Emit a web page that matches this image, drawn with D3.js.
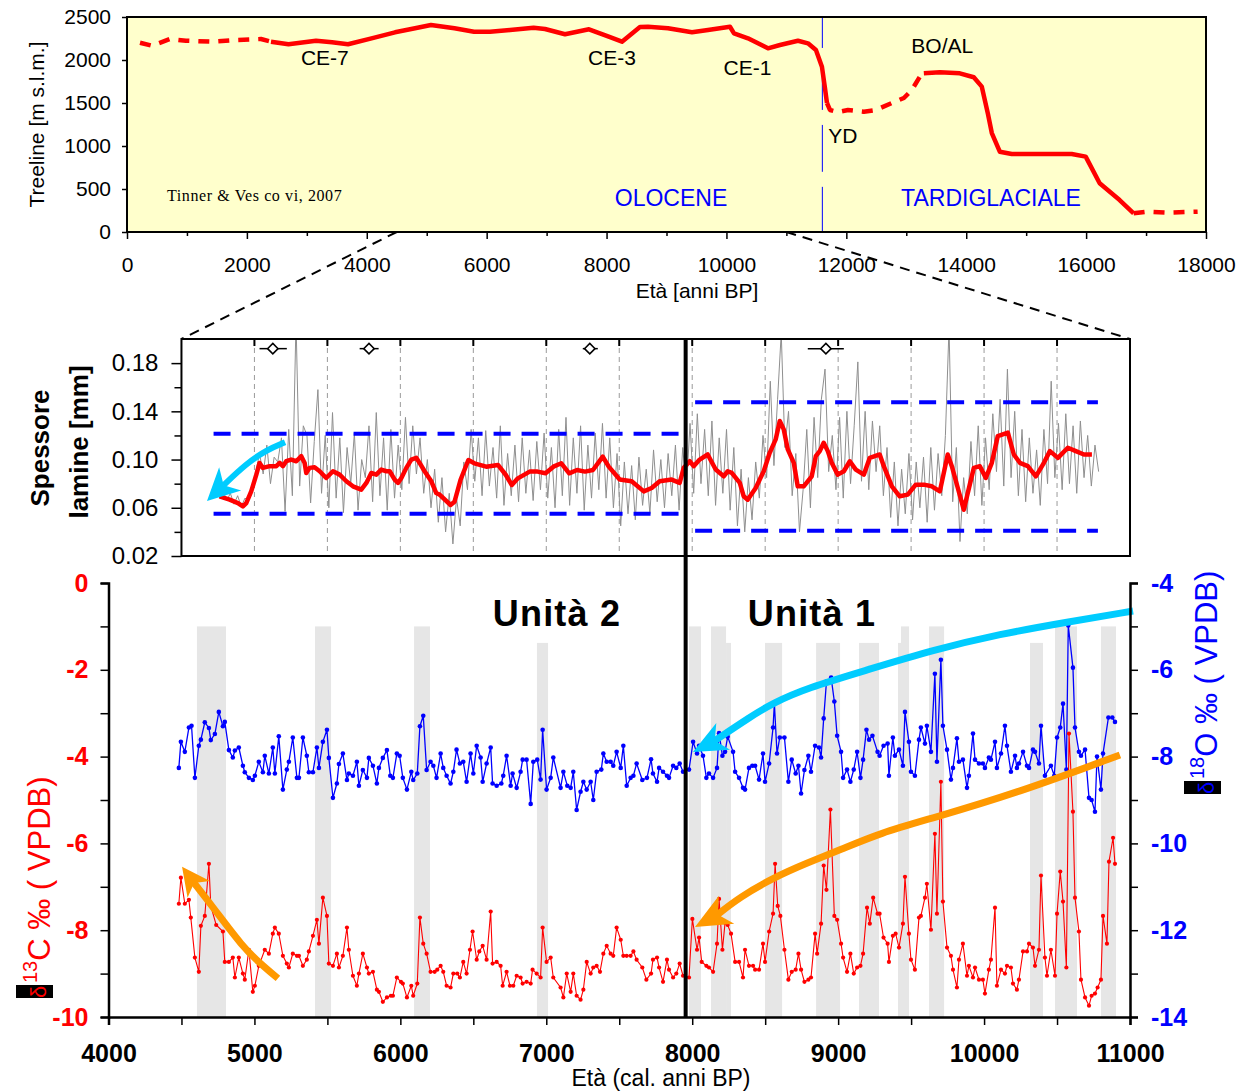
<!DOCTYPE html>
<html>
<head>
<meta charset="utf-8">
<script src="https://cdn.jsdelivr.net/npm/d3@7"></script>
<style>
  body { margin: 0; background: #fff; }
  svg text { font-family: Arial, "Liberation Sans", sans-serif; }
</style>
</head>
<body>
<svg id="chart" width="1245" height="1091"></svg>
<script>
// ---------------- Treeline reconstruction (Tinner & Vescovi, 2007) ----------------
const treelineAge = [217,417,717,984,1435,1835,2235,2402,2694,3153,3420,3687,4079,4471,4805,5071,5463,5789,6056,6389,6783,6973,7307,7707,8036,8257,8557,8691,9025,9425,9692,10059,10126,10359,10693,10893,11193,11360,11493,11593,11640,11677,11727,11860,12027,12293,12493,12760,12960,13093,13226,13293,13560,13893,14126,14260,14360,14427,14560,14760,15227,15760,15993,16226,16559,16793,17026,17360,17860];
const treelineElev = [2201,2166,2244,2224,2213,2233,2244,2213,2183,2224,2206,2183,2252,2322,2369,2407,2369,2329,2329,2349,2376,2360,2299,2357,2271,2213,2384,2387,2369,2322,2349,2387,2310,2252,2136,2174,2224,2194,2116,1922,1690,1500,1419,1395,1419,1399,1419,1500,1558,1651,1806,1845,1857,1845,1799,1690,1380,1151,934,907,907,907,876,566,372,217,236,225,236];
// age ranges where the treeline position is poorly constrained
const treelineUncertain = [[0,2402],[11677,13293],[16793,18000]];
const treelineLabels = [["CE-7",3300,1945],["CE-3",8090,1945],["CE-1",10350,1830],["BO/AL",13600,2080],["YD",11700,1035]];
const holoceneStart = 11600;
const topTicksY = [0,500,1000,1500,2000,2500];
const topTicksX = [0,2000,4000,6000,8000,10000,12000,14000,16000,18000];

// ---------------- Lamina thickness ----------------
const laminaStartAge = 4760, laminaStep = 25;
const laminaThickness = [
  0.068,0.074,0.066,0.072,0.063,0.070,0.061,0.068,
  0.066,0.078,0.090,0.105,0.088,0.112,0.080,0.102,
  0.098,0.118,0.057,0.125,0.070,0.215,0.078,0.128,
  0.120,0.064,0.115,0.158,0.072,0.120,0.060,0.139,
  0.068,0.118,0.056,0.110,0.080,0.122,0.058,0.100,
  0.085,0.128,0.065,0.139,0.070,0.118,0.058,0.125,
  0.068,0.112,0.075,0.135,0.080,0.128,0.088,0.118,
  0.072,0.100,0.060,0.092,0.048,0.085,0.040,0.072,
  0.030,0.068,0.045,0.098,0.075,0.125,0.082,0.118,
  0.070,0.124,0.078,0.110,0.068,0.128,0.062,0.105,
  0.070,0.112,0.065,0.118,0.072,0.108,0.066,0.115,
  0.075,0.122,0.068,0.110,0.060,0.125,0.070,0.135,
  0.062,0.118,0.072,0.128,0.058,0.112,0.068,0.122,
  0.075,0.130,0.068,0.118,0.060,0.105,0.045,0.098,
  0.055,0.095,0.050,0.102,0.062,0.092,0.055,0.108,
  0.065,0.100,0.060,0.105,0.070,0.112,0.058,0.110,
  0.075,0.130,0.072,0.138,0.080,0.125,0.070,0.132,
  0.062,0.118,0.072,0.125,0.058,0.110,0.045,0.092,
  0.040,0.085,0.050,0.098,0.068,0.120,0.085,0.165,
  0.095,0.150,0.205,0.110,0.140,0.070,0.105,0.040,
  0.075,0.125,0.060,0.135,0.085,0.150,0.175,0.090,
  0.120,0.075,0.135,0.068,0.140,0.080,0.128,0.181,
  0.082,0.140,0.075,0.132,0.090,0.128,0.070,0.110,
  0.052,0.098,0.045,0.092,0.055,0.105,0.050,0.098,
  0.060,0.102,0.048,0.110,0.058,0.105,0.070,0.120,
  0.210,0.065,0.110,0.032,0.085,0.055,0.115,0.070,
  0.128,0.062,0.118,0.075,0.138,0.090,0.150,0.078,
  0.175,0.085,0.140,0.070,0.125,0.065,0.118,0.072,
  0.108,0.062,0.125,0.080,0.165,0.085,0.130,0.075,
  0.138,0.080,0.128,0.072,0.132,0.085,0.120,0.078,
  0.112,0.090
];
const laminaSmooth = [[4761,0.0695],[4830,0.0667],[4887,0.0639],[4921,0.0611],[4944,0.0639],[4978,0.0736],[5013,0.0875],[5035,0.0972],[5058,0.0931],[5104,0.0945],[5150,0.0945],[5173,0.0972],[5195,0.0945],[5218,0.0986],[5252,0.1000],[5287,0.0986],[5321,0.1028],[5344,0.0972],[5355,0.0889],[5378,0.0931],[5412,0.0936],[5447,0.0903],[5492,0.0847],[5538,0.0903],[5584,0.0875],[5630,0.0820],[5675,0.0778],[5732,0.0750],[5767,0.0806],[5801,0.0889],[5835,0.0875],[5869,0.0917],[5904,0.0903],[5927,0.0903],[5961,0.0834],[5984,0.0806],[6007,0.0847],[6041,0.0931],[6075,0.1000],[6109,0.1014],[6132,0.0972],[6166,0.0903],[6212,0.0820],[6246,0.0722],[6269,0.0709],[6344,0.0623],[6371,0.0650],[6412,0.0830],[6466,0.0996],[6507,0.0969],[6588,0.0941],[6669,0.0955],[6723,0.0872],[6764,0.0789],[6805,0.0844],[6886,0.0900],[6940,0.0900],[6995,0.0886],[7049,0.0941],[7103,0.0969],[7157,0.0886],[7211,0.0913],[7265,0.0900],[7320,0.0913],[7387,0.1024],[7428,0.0941],[7503,0.0834],[7585,0.0820],[7668,0.0736],[7722,0.0764],[7777,0.0820],[7859,0.0834],[7914,0.0806],[7942,0.0931],[7983,0.0986],[8010,0.0945],[8051,0.1000],[8106,0.1042],[8161,0.0917],[8216,0.0861],[8243,0.0903],[8271,0.0889],[8326,0.0806],[8353,0.0695],[8380,0.0667],[8435,0.0764],[8490,0.0903],[8531,0.1056],[8572,0.1167],[8600,0.1320],[8627,0.1250],[8655,0.1084],[8696,0.0973],[8723,0.0778],[8764,0.0778],[8819,0.0861],[8847,0.1028],[8874,0.1070],[8901,0.1139],[8929,0.1070],[8956,0.0973],[8997,0.0875],[9039,0.0903],[9080,0.0986],[9121,0.0917],[9176,0.0875],[9217,0.1014],[9285,0.1042],[9313,0.0945],[9368,0.0778],[9422,0.0695],[9477,0.0709],[9532,0.0792],[9587,0.0792],[9642,0.0778],[9697,0.0736],[9751,0.1042],[9779,0.0945],[9820,0.0764],[9861,0.0584],[9902,0.0792],[9930,0.0931],[9971,0.0945],[10012,0.0848],[10053,0.0973],[10094,0.1195],[10163,0.1223],[10204,0.1042],[10245,0.0973],[10300,0.0945],[10355,0.0861],[10410,0.0973],[10451,0.1070],[10506,0.1014],[10574,0.1098],[10629,0.1070],[10684,0.1042],[10739,0.1042]];
// mean ± range bands for the two units: [startAge, endAge, lower, upper]
const laminaBands = [[4720,7930,0.055,0.1215],[8020,10780,0.041,0.1475]];
// radiometric dates with 2-sigma range: [age, lower, upper]
const datingPoints = [[5126,5035,5222],[5785,5721,5851],[7298,7250,7353],[8916,8792,9039]];
const laminaTicks = [0.02,0.06,0.10,0.14,0.18];
const laminaMinorTicks = [0.04,0.08,0.12,0.16];

// ---------------- Stable isotopes ----------------
const d18O = [[4482,-8.26],[4496,-7.66],[4523,-7.89],[4551,-7.33],[4569,-7.29],[4592,-8.49],[4619,-7.75],[4633,-7.61],[4660,-7.21],[4688,-7.34],[4701,-7.62],[4729,-7.48],[4756,-6.97],[4784,-7.30],[4797,-7.20],[4825,-7.85],[4852,-8.02],[4866,-7.86],[4893,-7.79],[4921,-8.21],[4934,-8.36],[4962,-8.49],[4989,-8.54],[5003,-8.44],[5030,-8.12],[5058,-8.36],[5071,-7.98],[5099,-8.39],[5126,-7.79],[5140,-8.39],[5167,-7.53],[5195,-8.76],[5222,-8.30],[5236,-8.12],[5263,-7.56],[5291,-8.49],[5305,-8.49],[5332,-7.56],[5359,-7.98],[5373,-8.36],[5401,-8.36],[5428,-7.79],[5442,-8.26],[5469,-7.66],[5497,-7.38],[5510,-8.03],[5538,-8.95],[5565,-8.62],[5579,-8.17],[5606,-7.93],[5634,-8.54],[5647,-8.39],[5675,-8.44],[5702,-8.12],[5716,-8.67],[5743,-8.31],[5771,-8.49],[5784,-8.03],[5812,-8.21],[5839,-8.62],[5853,-8.26],[5880,-8.03],[5908,-7.85],[5931,-8.44],[5949,-8.49],[5976,-7.93],[5995,-7.98],[6017,-8.49],[6045,-8.76],
  [6075,-8.35],[6088,-8.54],[6116,-8.39],[6134,-7.30],[6157,-7.06],[6180,-8.31],[6207,-8.12],[6226,-8.21],[6248,-8.49],[6276,-7.93],[6294,-8.26],[6317,-8.44],[6344,-8.62],[6363,-8.35],[6385,-7.84],[6408,-8.16],[6431,-8.12],[6454,-8.58],[6481,-7.93],[6500,-8.39],[6523,-7.75],[6550,-8.02],[6564,-8.58],[6591,-8.16],[6619,-7.79],[6632,-8.62],[6660,-8.67],[6692,-8.62],[6705,-8.44],[6728,-7.98],[6756,-8.67],[6769,-8.39],[6797,-8.72],[6824,-8.35],[6838,-8.07],[6865,-8.07],[6893,-9.09],[6911,-8.12],[6938,-8.07],[6961,-8.53],[6975,-7.38],[7002,-8.76],[7030,-8.49],[7048,-8.02],[7098,-8.72],[7117,-8.35],[7144,-8.67],[7167,-8.72],[7185,-8.35],[7208,-9.23],[7235,-8.81],[7254,-8.58],[7277,-8.76],[7304,-8.58],[7322,-9.00],[7345,-8.35],[7377,-8.30],[7391,-7.93],[7414,-8.12],[7441,-8.12],[7459,-8.21],[7482,-7.89],[7510,-8.26],[7528,-7.75],[7551,-8.67],[7578,-8.49],[7597,-8.44],[7619,-8.16],
  [7658,-8.54],[7690,-8.49],[7718,-8.06],[7731,-8.39],[7759,-8.58],[7773,-8.26],[7800,-8.35],[7827,-8.44],[7841,-8.49],[7869,-8.21],[7891,-8.26],[7914,-8.16],[7937,-8.35],[7978,-8.30],[8006,-7.66],[8033,-7.93],[8047,-7.75],[8074,-7.98],[8097,-8.49],[8115,-8.39],[8143,-8.49],[8170,-8.26],[8184,-7.46],[8207,-7.98],[8225,-7.89],[8243,-7.54],[8280,-7.89],[8294,-8.35],[8321,-8.49],[8348,-8.72],[8362,-8.76],[8389,-8.26],[8412,-8.21],[8431,-8.21],[8458,-8.53],[8485,-7.93],[8499,-8.58],[8527,-8.16],[8554,-7.33],[8563,-6.77],[8581,-7.93],[8600,-7.56],[8632,-7.56],[8659,-8.58],[8682,-8.07],[8709,-8.39],[8728,-8.21],[8746,-8.85],[8769,-8.31],[8796,-7.98],[8814,-8.35],[8842,-7.75],[8869,-7.79],[8883,-8.02],[8901,-7.12],[8920,-6.27],[8952,-6.18],[8974,-6.73],[8993,-7.52],[9020,-7.89],[9034,-8.49],[9061,-8.30],[9084,-8.58],[9107,-8.30],[9130,-7.89],[9153,-8.49],[9171,-8.07],[9194,-7.38],[9212,-7.61],[9235,-7.52],
  [9270,-7.89],[9284,-7.98],[9311,-7.75],[9339,-7.70],[9348,-8.44],[9375,-7.56],[9389,-7.98],[9417,-7.84],[9444,-8.21],[9458,-6.97],[9485,-7.66],[9499,-8.35],[9526,-8.44],[9554,-7.61],[9567,-7.33],[9595,-7.70],[9608,-7.29],[9636,-7.89],[9663,-6.09],[9677,-8.12],[9704,-5.77],[9718,-7.29],[9746,-7.84],[9773,-8.53],[9787,-8.26],[9814,-7.58],[9828,-8.12],[9855,-8.07],[9883,-8.72],[9896,-8.44],[9924,-7.47],[9938,-8.07],[9965,-8.16],[9992,-8.16],[10006,-8.26],[10033,-8.02],[10047,-8.07],[10075,-7.66],[10088,-8.26],[10116,-7.93],[10143,-7.29],[10157,-7.75],[10184,-8.35],[10212,-7.98],[10225,-8.26],[10239,-8.16],[10267,-7.89],[10294,-8.21],[10308,-8.26],[10335,-7.84],[10349,-7.89],[10376,-8.16],[10390,-7.29],[10417,-8.44],[10458,-8.21],[10481,-8.44],[10500,-7.56],[10522,-7.33],[10541,-6.78],[10564,-8.30],[10577,-4.98],[10609,-5.95],[10623,-7.33],[10650,-7.89],[10664,-7.98],[10692,-7.84],[10719,-8.95],[10737,-9.00],[10760,-9.27],[10774,-8.00],[10801,-8.76],[10815,-7.93],[10852,-7.10],[10879,-7.10],[10897,-7.20]];

const d13C = [[4482,-7.39],[4496,-6.79],[4523,-7.39],[4551,-7.30],[4564,-7.71],[4592,-8.63],[4619,-8.96],[4633,-7.90],[4660,-7.67],[4688,-6.47],[4701,-7.44],[4738,-7.88],[4784,-8.03],[4797,-8.73],[4825,-8.73],[4852,-8.63],[4866,-9.09],[4893,-8.63],[4921,-9.00],[4934,-9.14],[4962,-8.45],[4989,-9.42],[5003,-9.28],[5030,-8.82],[5071,-8.45],[5099,-8.54],[5126,-8.08],[5140,-7.94],[5167,-8.08],[5195,-8.59],[5222,-8.77],[5236,-8.86],[5263,-8.54],[5291,-8.59],[5305,-8.59],[5332,-8.82],[5359,-8.68],[5373,-8.49],[5401,-8.13],[5428,-7.76],[5442,-8.31],[5469,-7.25],[5497,-7.67],[5510,-8.77],[5538,-8.82],[5565,-8.54],[5579,-8.86],[5606,-8.59],[5634,-7.94],[5647,-8.45],[5675,-9.05],[5702,-9.28],[5716,-9.00],[5743,-8.54],[5771,-8.86],[5784,-9.00],[5812,-8.96],[5839,-9.37],[5853,-9.42],[5880,-9.65],[5908,-9.55],[5935,-9.51],[5949,-9.51],[5976,-9.09],[6004,-9.19],[6017,-9.23],[6045,-9.55],
  [6075,-9.28],[6088,-9.51],[6116,-9.23],[6134,-7.71],[6157,-8.31],[6180,-8.54],[6207,-8.96],[6235,-8.96],[6253,-8.91],[6276,-8.82],[6294,-8.96],[6317,-9.28],[6344,-9.32],[6363,-9.00],[6390,-9.00],[6408,-9.09],[6431,-8.73],[6454,-9.00],[6477,-8.45],[6495,-8.03],[6523,-8.68],[6541,-8.49],[6564,-8.36],[6591,-8.68],[6619,-7.57],[6632,-8.77],[6660,-8.73],[6687,-8.82],[6701,-9.28],[6728,-8.96],[6751,-9.28],[6774,-9.28],[6797,-9.05],[6824,-9.09],[6838,-9.23],[6865,-9.19],[6893,-9.23],[6906,-8.91],[6934,-9.00],[6961,-9.09],[6975,-7.94],[7002,-8.73],[7030,-8.63],[7048,-9.09],[7098,-9.32],[7117,-9.55],[7140,-9.00],[7167,-9.42],[7185,-9.00],[7208,-9.51],[7235,-9.60],[7254,-9.37],[7277,-8.73],[7304,-9.00],[7322,-8.86],[7345,-8.82],[7368,-8.96],[7391,-8.54],[7414,-8.36],[7441,-8.54],[7459,-8.59],[7482,-7.94],[7510,-8.22],[7528,-8.59],[7551,-8.59],[7578,-8.59],[7597,-8.49],[7619,-8.68],
  [7658,-8.86],[7686,-9.14],[7718,-9.00],[7731,-8.68],[7759,-8.63],[7773,-8.86],[7800,-9.19],[7827,-8.68],[7841,-8.91],[7869,-9.09],[7891,-9.00],[7914,-8.77],[7937,-9.05],[7978,-9.09],[8001,-7.74],[8033,-8.45],[8047,-8.17],[8065,-8.73],[8097,-8.82],[8115,-8.86],[8143,-8.96],[8170,-8.31],[8184,-7.28],[8207,-8.45],[8225,-7.83],[8243,-7.88],[8266,-8.08],[8294,-8.73],[8321,-8.73],[8348,-9.09],[8362,-8.45],[8389,-8.82],[8417,-8.82],[8431,-8.91],[8458,-8.91],[8485,-8.31],[8499,-8.73],[8527,-8.03],[8554,-7.62],[8568,-6.47],[8586,-7.44],[8604,-7.67],[8632,-8.45],[8659,-9.14],[8682,-8.96],[8709,-8.91],[8728,-8.54],[8746,-8.91],[8769,-9.19],[8796,-9.14],[8814,-9.09],[8842,-8.08],[8856,-8.54],[8883,-7.85],[8901,-6.51],[8920,-7.07],[8947,-5.22],[8974,-7.67],[8993,-7.76],[9020,-8.31],[9034,-8.63],[9061,-8.96],[9084,-8.54],[9107,-9.00],[9130,-8.86],[9153,-8.82],[9171,-8.54],[9198,-7.48],[9217,-7.85],[9240,-7.25],
  [9270,-7.62],[9284,-7.62],[9311,-8.17],[9339,-8.31],[9348,-8.73],[9375,-8.13],[9394,-8.08],[9417,-8.40],[9444,-7.85],[9458,-6.77],[9485,-8.08],[9499,-8.68],[9526,-8.91],[9554,-7.71],[9567,-7.67],[9595,-7.25],[9608,-6.93],[9636,-7.99],[9663,-5.78],[9677,-7.62],[9704,-4.58],[9718,-7.34],[9746,-8.40],[9773,-8.59],[9787,-8.91],[9814,-9.32],[9828,-8.68],[9855,-8.31],[9883,-9.05],[9896,-8.82],[9924,-9.09],[9938,-8.86],[9965,-9.14],[9992,-9.14],[10006,-9.46],[10033,-8.91],[10047,-8.68],[10075,-7.48],[10088,-9.28],[10116,-8.91],[10143,-9.00],[10157,-8.82],[10184,-8.86],[10198,-9.23],[10225,-9.37],[10239,-9.14],[10267,-8.49],[10294,-8.49],[10308,-8.31],[10335,-8.40],[10349,-8.82],[10376,-8.45],[10390,-6.74],[10417,-8.63],[10431,-9.05],[10458,-8.45],[10486,-9.05],[10500,-7.62],[10522,-6.65],[10541,-7.34],[10564,-8.86],[10582,-3.47],[10609,-5.27],[10623,-7.25],[10650,-8.03],[10664,-9.14],[10692,-9.55],[10719,-9.74],[10737,-9.51],[10760,-9.46],[10778,-9.32],[10801,-9.14],[10815,-7.67],[10842,-8.31],[10856,-6.42],[10884,-5.87],[10897,-6.47]];

// shaded intervals: [startAge, endAge, top (δ13C units)]
const shadedIntervals = [[4606,4805,-1.0],[5415,5525,-1.0],[6094,6203,-1.0],[6936,7012,-1.38],[7978,8060,-1.0],[8129,8232,-1.0],[8232,8266,-1.38],[8499,8616,-1.38],[8849,9013,-1.38],[9143,9280,-1.38],[9410,9431,-1.38],[9431,9486,-1.0],[9623,9726,-1.0],[10315,10404,-1.38],[10486,10637,-1.0],[10801,10904,-1.0]];
const unitBoundaryAge = 7955;
const ageTicks = [4000,5000,6000,7000,8000,9000,10000,11000];
const ageMinorTicks = [4500,5500,6500,7500,8500,9500,10500];

// trend arrows, in (age, value) units
const arrowO18Trend = [[11021,-0.645],[10569,-0.899],[10109,-1.175],[9650,-1.544],[9198,-2.005],[8787,-2.419],[8553,-2.765],[8396,-3.088],[8245,-3.479],[8005,-3.894]];
const arrowC13Trend = [[10931,-3.963],[10225,-4.839],[9650,-5.415],[9287,-5.760],[9013,-6.152],[8786,-6.452],[8553,-6.797],[8327,-7.235],[8231,-7.535],[8019,-7.926]];
const arrowC13Unit2 = [[5161,-9.11],[5038,-8.76],[4921,-8.39],[4716,-7.47],[4606,-7.00],[4504,-6.54]];
const arrowLamina = [[5210,0.1143],[5084,0.1079],[4947,0.0969],[4826,0.0830],[4675,0.0656]];

// ================= drawing =================
const svg = d3.select("#chart");
const FONT = 'Arial, "Liberation Sans", sans-serif';

const xTop = d3.scaleLinear().domain([0, 18000]).range([127, 1206]);
const yTop = d3.scaleLinear().domain([0, 2500]).range([232, 17]);
const xAge = d3.scaleLinear().domain([4000, 11000]).range([108.5, 1130]);
const yLam = d3.scaleLinear().domain([0.02, 0.20]).range([556, 339]);
const yC = d3.scaleLinear().domain([-10, 0]).range([1017, 583]);
const yO = d3.scaleLinear().domain([-14, -4]).range([1017, 583]);

function styleAxis(g, opt) {
  g.attr("font-family", FONT).attr("font-size", opt.size)
   .attr("font-weight", opt.weight || "normal");
  g.selectAll("text").attr("fill", opt.color || "#000");
  g.selectAll(".tick line").attr("stroke", "#000").attr("stroke-width", opt.tickWidth || 1.5);
  if (opt.noDomain) g.select(".domain").remove();
  else g.select(".domain").attr("stroke", "#000").attr("stroke-width", opt.domainWidth || 2.5);
}

// ---------- top panel ----------
const topG = svg.append("g");
topG.append("rect")
  .attr("x", xTop(0)).attr("y", yTop(2500))
  .attr("width", xTop(18000) - xTop(0)).attr("height", yTop(0) - yTop(2500))
  .attr("fill", "#FFFFCC");

// Holocene / Late-glacial boundary, broken around the labels
[[2500,2140],[1965,1420],[1245,700],[525,0]].forEach(([a, b]) => {
  topG.append("line")
    .attr("x1", xTop(holoceneStart)).attr("x2", xTop(holoceneStart))
    .attr("y1", yTop(a)).attr("y2", yTop(b))
    .attr("stroke", "#0000FF").attr("stroke-width", 1);
});

// treeline curve, dashed where poorly constrained
const uncertainIdx = a => treelineUncertain.findIndex(r => a >= r[0] && a <= r[1]);
const tlPts = treelineAge.map((a, i) => [a, treelineElev[i]]);
const tlRuns = [];
for (let i = 0; i < tlPts.length - 1; i++) {
  const ua = uncertainIdx(tlPts[i][0]), ub = uncertainIdx(tlPts[i + 1][0]);
  const dashed = ua >= 0 && ua === ub;
  const last = tlRuns[tlRuns.length - 1];
  if (last && last.dashed === dashed) last.pts.push(tlPts[i + 1]);
  else tlRuns.push({ dashed, pts: [tlPts[i], tlPts[i + 1]] });
}
const tlLine = d3.line().x(d => xTop(d[0])).y(d => yTop(d[1]));
tlRuns.forEach(r => {
  topG.append("path").attr("d", tlLine(r.pts))
    .attr("fill", "none").attr("stroke", "#FF0000")
    .attr("stroke-width", 4.5)
    .attr("stroke-linejoin", "round")
    .attr("stroke-dasharray", r.dashed ? "11,9" : null);
});

treelineLabels.forEach(([t, a, e]) => {
  topG.append("text").attr("x", xTop(a)).attr("y", yTop(e))
    .attr("text-anchor", t === "YD" ? "start" : "middle")
    .attr("font-size", 21).attr("fill", "#000").text(t);
});
topG.append("text").attr("x", 671).attr("y", 206).attr("text-anchor", "middle")
  .attr("font-size", 23).attr("fill", "#0000FF").text("OLOCENE");
topG.append("text").attr("x", 991).attr("y", 206).attr("text-anchor", "middle")
  .attr("font-size", 23).attr("fill", "#0000FF").text("TARDIGLACIALE");
topG.append("text").attr("x", 167).attr("y", 201)
  .style("font-family", '"Liberation Serif", "Times New Roman", serif')
  .attr("font-size", 16).attr("letter-spacing", 0.6).attr("fill", "#000")
  .text("Tinner & Ves co vi, 2007");

topG.append("g").attr("transform", `translate(${xTop(0)},0)`)
  .call(d3.axisLeft(yTop).tickValues(topTicksY).tickSize(5).tickPadding(11).tickFormat(d3.format("d")))
  .call(g => styleAxis(g, { size: 21, noDomain: true }));
topG.append("g").attr("transform", `translate(0,${yTop(0)})`)
  .call(d3.axisBottom(xTop).tickValues(d3.range(1000, 18000, 2000)).tickSize(4).tickFormat(""))
  .call(g => styleAxis(g, { size: 21, noDomain: true }));
topG.append("g").attr("transform", `translate(0,${yTop(0)})`)
  .call(d3.axisBottom(xTop).tickValues(topTicksX).tickSize(7).tickPadding(18).tickFormat(d3.format("d")))
  .call(g => styleAxis(g, { size: 21, noDomain: true }));
topG.append("rect")
  .attr("x", xTop(0)).attr("y", yTop(2500))
  .attr("width", xTop(18000) - xTop(0)).attr("height", yTop(0) - yTop(2500))
  .attr("fill", "none").attr("stroke", "#000").attr("stroke-width", 2);
topG.append("text").attr("transform", `translate(44,${yTop(1250)}) rotate(-90)`)
  .attr("text-anchor", "middle").attr("font-size", 21).text("Treeline [m s.l.m.]");
topG.append("text").attr("x", 697).attr("y", 298).attr("text-anchor", "middle")
  .attr("font-size", 21).text("Età [anni BP]");

// zoom connectors from the treeline axis to the lamina panel
[4500, 11000].forEach(a => {
  svg.append("line")
    .attr("x1", xTop(a)).attr("y1", yTop(0))
    .attr("x2", xAge(a)).attr("y2", yLam(0.20))
    .attr("stroke", "#000").attr("stroke-width", 2).attr("stroke-dasharray", "10,7");
});

// ---------- middle panel: lamina thickness ----------
const midG = svg.append("g");
const mx0 = xAge(4500), mx1 = xAge(11000);
svg.append("clipPath").attr("id", "midClip").append("rect")
  .attr("x", mx0).attr("y", yLam(0.20)).attr("width", mx1 - mx0).attr("height", yLam(0.02) - yLam(0.20));

const gridAges = d3.range(5000, 10501, 500);
midG.selectAll("line.grid").data(gridAges).join("line")
  .attr("x1", d => xAge(d)).attr("x2", d => xAge(d))
  .attr("y1", yLam(0.20)).attr("y2", yLam(0.02))
  .attr("stroke", "#9a9a9a").attr("stroke-width", 1).attr("stroke-dasharray", "5,4");
midG.selectAll("line.toptick").data(gridAges).join("line")
  .attr("x1", d => xAge(d)).attr("x2", d => xAge(d))
  .attr("y1", yLam(0.20)).attr("y2", yLam(0.20) + 7)
  .attr("stroke", "#000").attr("stroke-width", 2);

const laminaSeries = laminaThickness.map((v, i) => [laminaStartAge + i * laminaStep, v]);
const lamLine = d3.line().x(d => xAge(d[0])).y(d => yLam(d[1]));
midG.append("path").attr("d", lamLine(laminaSeries)).attr("clip-path", "url(#midClip)")
  .attr("fill", "none").attr("stroke", "#8f8f8f").attr("stroke-width", 1);

laminaBands.forEach(([a0, a1, lo, hi]) => {
  [lo, hi].forEach(v => {
    midG.append("line").attr("x1", xAge(a0)).attr("x2", xAge(a1))
      .attr("y1", yLam(v)).attr("y2", yLam(v))
      .attr("stroke", "#0000FF").attr("stroke-width", 4).attr("stroke-dasharray", "17,11");
  });
});

midG.append("path").attr("d", lamLine(laminaSmooth))
  .attr("fill", "none").attr("stroke", "#FF0000").attr("stroke-width", 4.5)
  .attr("stroke-linejoin", "round");

datingPoints.forEach(([a, lo, hi]) => {
  const y = yLam(0.192), x = xAge(a);
  midG.append("line").attr("x1", xAge(lo)).attr("x2", xAge(hi)).attr("y1", y).attr("y2", y)
    .attr("stroke", "#000").attr("stroke-width", 1.5);
  midG.append("path").attr("d", d3.symbol(d3.symbolDiamond2, 70)())
    .attr("transform", `translate(${x},${y})`)
    .attr("fill", "#fff").attr("stroke", "#000").attr("stroke-width", 1.5);
});

midG.append("rect").attr("x", mx0).attr("y", yLam(0.20))
  .attr("width", mx1 - mx0).attr("height", yLam(0.02) - yLam(0.20))
  .attr("fill", "none").attr("stroke", "#000").attr("stroke-width", 2);
midG.append("g").attr("transform", `translate(${mx0},0)`)
  .call(d3.axisLeft(yLam).tickValues(laminaMinorTicks).tickSize(7).tickFormat(""))
  .call(g => styleAxis(g, { size: 24, noDomain: true }));
midG.append("g").attr("transform", `translate(${mx0},0)`)
  .call(d3.axisLeft(yLam).tickValues(laminaTicks).tickSize(10).tickPadding(13).tickFormat(d3.format(".2f")))
  .call(g => styleAxis(g, { size: 24, noDomain: true }));
midG.append("text").attr("transform", "translate(49,448) rotate(-90)")
  .attr("text-anchor", "middle").attr("font-size", 26).attr("font-weight", "bold").text("Spessore");
midG.append("text").attr("transform", "translate(88,442) rotate(-90)")
  .attr("text-anchor", "middle").attr("font-size", 26).attr("font-weight", "bold").text("lamine [mm]");

// ---------- bottom panel: stable isotopes ----------
const botG = svg.append("g");
botG.selectAll("rect.band").data(shadedIntervals).join("rect")
  .attr("x", d => xAge(d[0])).attr("width", d => xAge(d[1]) - xAge(d[0]))
  .attr("y", d => yC(d[2])).attr("height", d => yC(-10) - yC(d[2]))
  .attr("fill", "#E6E6E6");

const oLine = d3.line().x(d => xAge(d[0])).y(d => yO(d[1]));
const cLine = d3.line().x(d => xAge(d[0])).y(d => yC(d[1]));
botG.append("path").attr("d", oLine(d18O)).attr("fill", "none")
  .attr("stroke", "#0000FF").attr("stroke-width", 1.3);
botG.selectAll("circle.o").data(d18O).join("circle")
  .attr("cx", d => xAge(d[0])).attr("cy", d => yO(d[1])).attr("r", 2.3).attr("fill", "#0000FF");
botG.append("path").attr("d", cLine(d13C)).attr("fill", "none")
  .attr("stroke", "#FF0000").attr("stroke-width", 1.1);
botG.selectAll("circle.c").data(d13C).join("circle")
  .attr("cx", d => xAge(d[0])).attr("cy", d => yC(d[1])).attr("r", 2.1).attr("fill", "#FF0000");

// trend arrows
function drawArrow(g, pts, color, width, headLen, headHalf) {
  const tip = pts[pts.length - 1];
  const prev = pts[pts.length - 2];
  const dx = tip[0] - prev[0], dy = tip[1] - prev[1];
  const len = Math.hypot(dx, dy), ux = dx / len, uy = dy / len;
  const bx = tip[0] - ux * headLen, by = tip[1] - uy * headLen;
  const shaft = pts.slice(0, -1);
  shaft[shaft.length - 1] = [tip[0] - ux * headLen * 0.7, tip[1] - uy * headLen * 0.7];
  g.append("path").attr("d", d3.line().curve(d3.curveBasis)(shaft))
    .attr("fill", "none").attr("stroke", color).attr("stroke-width", width);
  const px = -uy, py = ux;
  const notchX = tip[0] - ux * headLen * 0.72, notchY = tip[1] - uy * headLen * 0.72;
  g.append("path")
    .attr("d", `M${tip[0]},${tip[1]}L${bx + px * headHalf},${by + py * headHalf}L${notchX},${notchY}L${bx - px * headHalf},${by - py * headHalf}Z`)
    .attr("fill", color);
}
const toPxC = p => [xAge(p[0]), yC(p[1])];
drawArrow(botG, arrowO18Trend.map(toPxC), "#00CCFF", 7, 34, 15);
drawArrow(botG, arrowC13Trend.map(toPxC), "#FF9900", 7, 36, 16);
drawArrow(botG, arrowC13Unit2.map(toPxC), "#FF9900", 7, 28, 14);
drawArrow(midG, arrowLamina.map(p => [xAge(p[0]), yLam(p[1])]), "#00CCFF", 6, 32, 16);

// unit boundary
svg.append("line").attr("x1", xAge(unitBoundaryAge)).attr("x2", xAge(unitBoundaryAge))
  .attr("y1", yLam(0.20)).attr("y2", yC(-10))
  .attr("stroke", "#000").attr("stroke-width", 4);

// axes
botG.append("g").attr("transform", `translate(${xAge(4000)},0)`)
  .call(d3.axisLeft(yC).tickValues(d3.range(-10, 0.5, 1)).tickSize(8).tickPadding(12)
    .tickFormat(d => (Math.round(d) % 2 === 0 ? String(Math.round(d)) : "")))
  .call(g => styleAxis(g, { size: 25, weight: "bold", color: "#FF0000" }));
botG.append("g").attr("transform", `translate(${xAge(11000)},0)`)
  .call(d3.axisRight(yO).tickValues(d3.range(-14, -3.5, 1)).tickSize(8).tickPadding(13)
    .tickFormat(d => (Math.round(d) % 2 === 0 ? String(Math.round(d)) : "")))
  .call(g => styleAxis(g, { size: 25, weight: "bold", color: "#0000FF" }));
botG.append("g").attr("transform", `translate(0,${yC(-10)})`)
  .call(d3.axisBottom(xAge).tickValues(ageMinorTicks).tickSize(8).tickFormat(""))
  .call(g => styleAxis(g, { size: 25, noDomain: true }));
botG.append("g").attr("transform", `translate(0,${yC(-10)})`)
  .call(d3.axisBottom(xAge).tickValues(ageTicks).tickSize(8).tickPadding(19).tickFormat(d => String(d)))
  .call(g => styleAxis(g, { size: 25, weight: "bold", color: "#000" }));

botG.append("text").attr("x", 557).attr("y", 626).attr("text-anchor", "middle")
  .attr("font-size", 36).attr("font-weight", "bold").attr("letter-spacing", 1.2).text("Unità 2");
botG.append("text").attr("x", 812).attr("y", 626).attr("text-anchor", "middle")
  .attr("font-size", 36).attr("font-weight", "bold").attr("letter-spacing", 1.2).text("Unità 1");
botG.append("text").attr("x", 661).attr("y", 1086).attr("text-anchor", "middle")
  .attr("font-size", 23).text("Età (cal. anni BP)");

// isotope axis titles (delta symbol sits in its own dark cell)
function isoTitle(x, yStart, mass, element, color, boxX) {
  svg.append("rect").attr("x", boxX).attr("y", yStart + 2).attr("width", 37).attr("height", 13).attr("fill", "#000");
  svg.append("text").attr("transform", `translate(${boxX + 30},${yStart + 15}) rotate(-90)`)
    .attr("font-size", 22).attr("fill", color).text("δ");
  const t = svg.append("text").attr("transform", `translate(${x},${yStart}) rotate(-90)`)
    .attr("font-size", 31).attr("fill", color);
  t.append("tspan").attr("font-size", 20).attr("dy", -13).text(mass);
  t.append("tspan").attr("dy", 13).text(element + " ‰ ( VPDB)");
}
isoTitle(50, 983, "13", "C", "#FF0000", 16);
isoTitle(1217, 779, "18", "O", "#0000FF", 1184);
</script>
</body>
</html>
